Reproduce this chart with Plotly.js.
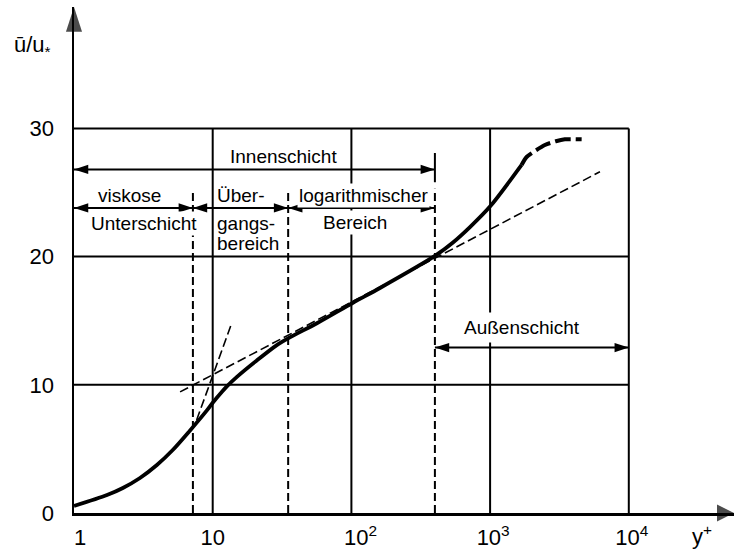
<!DOCTYPE html>
<html>
<head>
<meta charset="utf-8">
<script src="https://cdn.plot.ly/plotly-3.0.1.min.js"></script>
<style>
  html, body { margin: 0; padding: 0; background: #fff; }
  #chart { width: 734px; height: 551px; }
</style>
</head>
<body>
<div id="chart"></div>
<script>
// Universal velocity profile u/u* over y+ of a turbulent wall boundary layer

// measured profile (solid part)
const yPlus = [1, 1.73, 2.25, 2.99, 3.96, 5.15, 6.82, 9.08, 10, 11.75, 12.65, 14.95, 20.8, 29, 36, 56.4, 102.6, 160.6, 400, 540, 716, 998, 1687];
const uPlus = [0.55, 1.4, 1.95, 2.73, 3.74, 4.91, 6.4, 8.0, 8.6, 9.5, 9.88, 10.62, 11.9, 13.1, 13.7, 14.8, 16.4, 17.55, 20.05, 21.1, 22.3, 23.9, 27.15];

// outer part of the profile, only sketched (dashed)
const yPlusOuter = [1687, 1833, 2483, 2980, 3459, 4571];
const uPlusOuter = [27.15, 27.77, 28.7, 29.0, 29.15, 29.15];

// asymptotes: linear wall law and logarithmic law
const linLawY = [7.66, 13.7];
const linLawU = [7.25, 14.8];
const logLawY = [5.82, 6194];
const logLawU = [9.45, 26.62];

// limits between the layers (y+) and the height of their dashed markers
const zoneLimits = [7.2, 35, 400];
const zoneLimitTop = [25.06, 25.25, 25.3];

// span arrows: [from y+, to y+, level u/u*]
const innerSpan = [1, 400, 26.8];
const subSpans = [[1, 7.2, 23.8], [7.2, 35, 23.8], [35, 400, 23.8]];
const outerSpan = [400, 10000, 12.9];
const innerEndBar = [400, 25.8, 28.08];

// grid / frame
const gridX = [10, 100, 1000, 10000];
const gridU = [10, 20, 30];

// tick labels
const xTickVals = [1, 10, 100, 1000, 10000];
const xTickText = ['\u00a0\u00a01', '10', '\u00a0\u00a0\u00a010<sup>2</sup>', '\u00a010<sup>3</sup>', '\u00a010<sup>4</sup>'];
const yTickVals = [0, 10, 20, 30];

// axis extents (log10 units for x)
const xTop = 4.7585;
const yTop = 39.47;

const ink = '#000';
const FONT = 'Liberation Sans, Arial, Helvetica, sans-serif';

function segments(list) {
  const x = [], y = [];
  list.forEach(([x0, y0, x1, y1]) => { x.push(x0, x1, null); y.push(y0, y1, null); });
  return { x, y };
}

const gridSeg = segments(
  gridX.map(g => [g, 0, g, 30]).concat(gridU.map(g => [1, g, 10000, g]))
);
const zoneSeg = segments(zoneLimits.map((z, i) => [z, 0, z, zoneLimitTop[i]]));
const barSeg = segments([[innerEndBar[0], innerEndBar[1], innerEndBar[0], innerEndBar[2]]]);

const spans = [innerSpan].concat(subSpans, [outerSpan]);
const arrowX = [], arrowY = [], arrowAngle = [];
spans.forEach(([a, b, u]) => {
  arrowX.push(a, b, null);
  arrowY.push(u, u, null);
  arrowAngle.push(-90, 90, 0);
});

const traces = [
  { x: gridSeg.x, y: gridSeg.y, mode: 'lines', line: { color: ink, width: 2 }, hoverinfo: 'skip' },
  { x: zoneSeg.x, y: zoneSeg.y, mode: 'lines', line: { color: ink, width: 2, dash: '8px,4px' }, hoverinfo: 'skip' },
  { x: barSeg.x, y: barSeg.y, mode: 'lines', line: { color: ink, width: 2 }, hoverinfo: 'skip' },
  { x: linLawY, y: linLawU, mode: 'lines', line: { color: ink, width: 1.6, dash: '9px,4px' } },
  { x: logLawY, y: logLawU, mode: 'lines', line: { color: ink, width: 1.6, dash: '9px,4px' } },
  { x: yPlus, y: uPlus, mode: 'lines', line: { color: ink, width: 3.8, shape: 'spline', smoothing: 0.8 } },
  { x: yPlusOuter, y: uPlusOuter, mode: 'lines', line: { color: ink, width: 4, shape: 'spline', smoothing: 0.6, dash: '16px,5px' } },
  {
    x: arrowX, y: arrowY, mode: 'lines+markers', cliponaxis: false,
    line: { color: ink, width: 2 },
    marker: { symbol: 'arrow', size: 15, angle: arrowAngle, color: ink, line: { width: 0 } }
  },
  {
    x: [1, Math.pow(10, xTop)], y: [yTop, 0], mode: 'markers', cliponaxis: false,
    marker: { symbol: ['arrow', 'arrow-right'], size: [26, 17], color: ink, line: { width: 0 } }
  }
];

const txt = { family: FONT, size: 19, color: ink };
function label(text, x, y, extra) {
  return Object.assign({ text, x, y, xref: 'x', yref: 'y', showarrow: false, font: txt, borderpad: 1 }, extra || {});
}

const annotations = [
  label('Innenschicht', 1.513, 27.79),
  label('viskose', 0.397, 24.8),
  label('Unterschicht', 0.504, 22.59, { bgcolor: '#fff' }),
  label('Über-', 1.02, 24.8, { xanchor: 'left' }),
  label('gangs-', 1.02, 22.6, { xanchor: 'left' }),
  label('bereich', 1.02, 21.05, { xanchor: 'left' }),
  label('logarithmischer', 2.088, 24.8, { bgcolor: '#fff' }),
  label('Bereich', 2.029, 22.64, { bgcolor: '#fff' }),
  label('Außenschicht', 3.227, 14.48, { bgcolor: '#fff', borderpad: 4 }),
  {
    text: 'ū/u<sub>*</sub>', xref: 'paper', yref: 'paper', x: (12 - 74) / 660, y: (513 - 46) / 506,
    xanchor: 'left', yanchor: 'middle', showarrow: false, font: { family: FONT, size: 22, color: ink }
  },
  {
    text: 'y<sup>+</sup>', xref: 'paper', yref: 'paper', x: (690 - 74) / 660, y: (513 - 535) / 506,
    xanchor: 'left', yanchor: 'middle', showarrow: false, font: { family: FONT, size: 22, color: ink }
  }
];

const layout = {
  width: 734, height: 551,
  margin: { l: 74, r: 0, t: 7, b: 38, pad: 0 },
  paper_bgcolor: '#fff', plot_bgcolor: '#fff',
  showlegend: false,
  hovermode: false,
  font: { family: FONT, color: ink },
  xaxis: {
    type: 'log', range: [0, xTop], showgrid: false, zeroline: false,
    showline: true, linewidth: 2.5, linecolor: ink,
    tickmode: 'array', tickvals: xTickVals, ticktext: xTickText, ticks: '',
    tickfont: { family: FONT, size: 22, color: ink }, ticklabelstandoff: 3
  },
  yaxis: {
    range: [0, yTop], showgrid: false, zeroline: false,
    showline: true, linewidth: 2.5, linecolor: ink,
    tickmode: 'array', tickvals: yTickVals, ticks: '',
    tickfont: { family: FONT, size: 22, color: ink }, ticklabelstandoff: 13
  },
  annotations
};

Plotly.newPlot('chart', traces, layout, { staticPlot: true, displayModeBar: false });
</script>
</body>
</html>
